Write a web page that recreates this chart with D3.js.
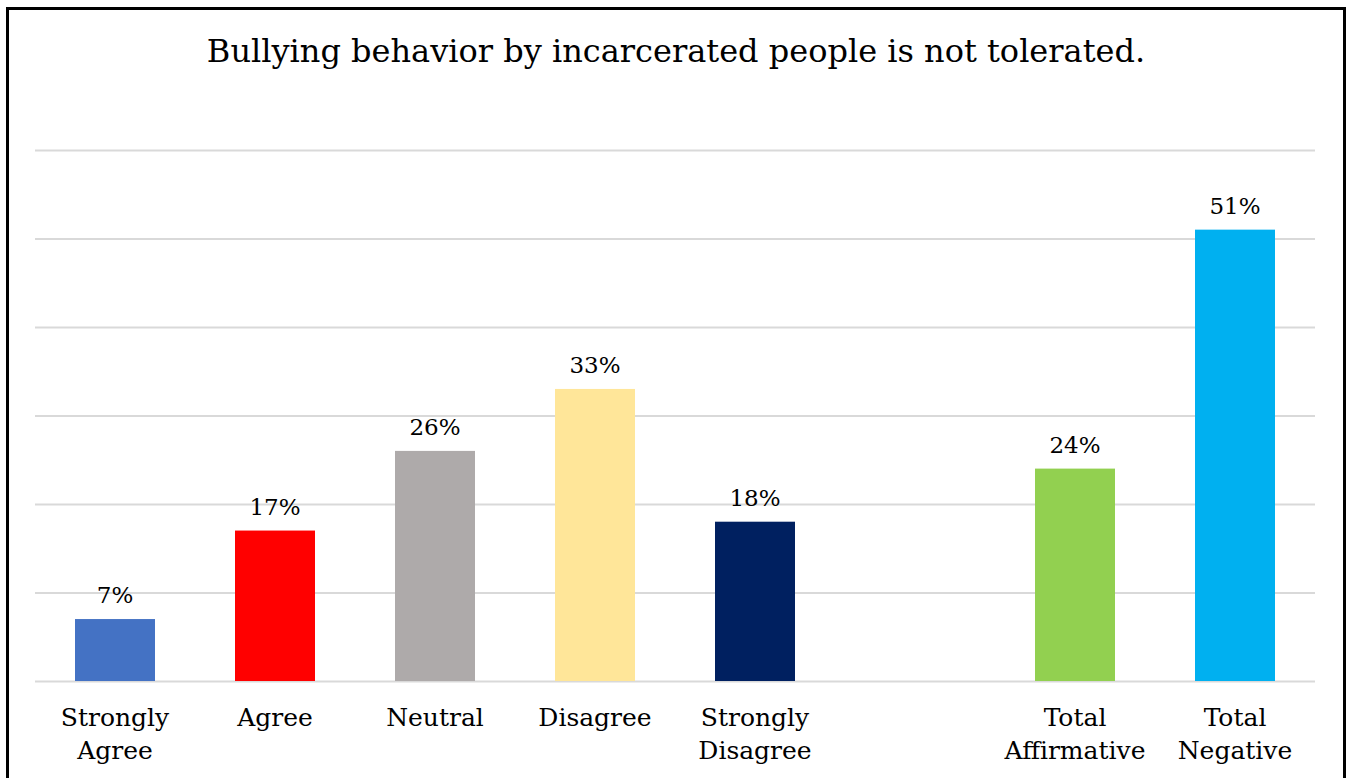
<!DOCTYPE html>
<html>
<head>
<meta charset="utf-8">
<script src="https://cdn.jsdelivr.net/npm/d3@7"></script>
<style>
  body { margin: 0; background: #fff; }
  text { font-family: Georgia, "DejaVu Serif", serif; fill: #000; }
</style>
</head>
<body>
<svg class="svgClass" width="1349" height="778"></svg>
<script>
var widthCanva = 1349;
var heightCanva = 778;
var margin = {'top': 150, 'right': 34, 'bottom': 97, 'left': 35};
var width = widthCanva - margin.left - margin.right;
var height = heightCanva - margin.top - margin.bottom;

// dati
const categories = ['Strongly Agree', 'Agree', 'Neutral', 'Disagree', 'Strongly Disagree', '', 'Total Affirmative', 'Total Negative'];
const values = [7, 17, 26, 33, 18, null, 24, 51];
const colors = ['#4472C4', '#FF0000', '#AEAAAA', '#FFE699', '#002060', null, '#92D050', '#00B0F0'];
const yTicks = [0, 10, 20, 30, 40, 50, 60];
const title = 'Bullying behavior by incarcerated people is not tolerated.';

const data = categories.map((c, i) => ({cat: c, key: 'c' + i, value: values[i], color: colors[i]}));

var svg = d3.select('.svgClass');

// cornice
svg.append('rect')
    .attr('x', 7.5).attr('y', 8.5)
    .attr('width', 1337).attr('height', 790)
    .attr('fill', 'none')
    .attr('stroke', '#000')
    .attr('stroke-width', 3);

svg.append('text')
    .attr('x', 676).attr('y', 62)
    .attr('text-anchor', 'middle')
    .style('font-size', '32px')
    .text(title);

var g = svg.append('g').attr('transform', `translate(${margin.left},${margin.top})`);

var xScale = d3.scaleBand()
    .domain(data.map(d => d.key))
    .range([0, width])
    .paddingInner(0.5)
    .paddingOuter(0.25);

var yScale = d3.scaleLinear()
    .domain([0, 60])
    .range([height, 0]);

// griglia
const yGrid = d3.axisLeft(yScale)
    .tickValues(yTicks)
    .tickSize(-width)
    .tickFormat('');

g.append('g')
    .attr('class', 'yGrid')
    .call(yGrid)
    .call(s => s.select('.domain').remove())
    .selectAll('line')
    .attr('stroke', '#d9d9d9')
    .attr('stroke-width', 2);

const bars = data.filter(d => d.value != null);

g.selectAll('.bar')
    .data(bars)
    .join('rect')
    .attr('class', 'bar')
    .attr('x', d => xScale(d.key))
    .attr('y', d => yScale(d.value))
    .attr('width', xScale.bandwidth())
    .attr('height', d => yScale(0) - yScale(d.value))
    .attr('fill', d => d.color);

g.selectAll('.val')
    .data(bars)
    .join('text')
    .attr('class', 'val')
    .attr('x', d => xScale(d.key) + xScale.bandwidth() / 2)
    .attr('y', d => yScale(d.value) - 16)
    .attr('text-anchor', 'middle')
    .style('font-size', '23px')
    .text(d => d.value + '%');

// etichette asse x (due righe)
var xAxis = d3.axisBottom(xScale).tickSize(0).tickFormat('');
var ax = g.append('g')
    .attr('class', 'ascisse')
    .attr('transform', `translate(0, ${height})`)
    .call(xAxis);
ax.select('.domain').remove();

ax.selectAll('.tick')
    .each(function(k) {
        const d = data.find(e => e.key === k);
        const words = d.cat.split(' ');
        const t = d3.select(this).append('text')
            .attr('text-anchor', 'middle')
            .style('font-size', '25px');
        words.forEach((w, i) => {
            t.append('tspan')
                .attr('x', 0)
                .attr('y', 45 + i * 33)
                .text(w);
        });
    });
</script>
</body>
</html>
